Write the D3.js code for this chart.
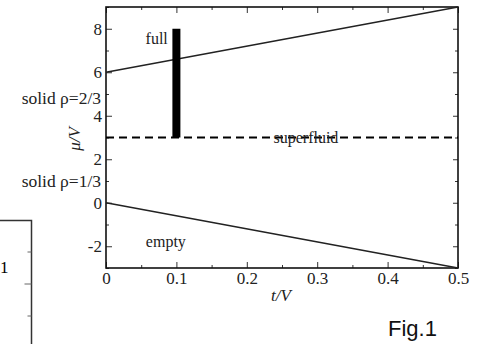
<!DOCTYPE html>
<html>
<head>
<meta charset="utf-8">
<script src="https://cdn.jsdelivr.net/npm/d3@7"></script>
<style>
	body { margin: 0; background: #fff; }
	svg { display: block; }
</style>
</head>
<body>
<div id="root"></div>
<script>
// phase diagram data (t/V on x, mu/V on y)
const tRange = [0, 0.5];
const fullBoundary = [6, 9];     // mu at t=0 and t=0.5
const emptyBoundary = [0, -3];
const superfluidLevel = 3;
const barT = 0.1;
const barRange = [3, 8];
const xTicks = [0, 0.1, 0.2, 0.3, 0.4, 0.5];
const xTickLabels = ["0", "0.1", "0.2", "0.3", "0.4", "0.5"];
const yTicks = [-2, 0, 2, 4, 6, 8];
const yTickLabels = ["-2", "0", "2", "4", "6", "8"];
const regionLabels = [
	{text: "full", t: 0.072, mu: 7.3},
	{text: "superfluid", t: 0.284, mu: 2.75},
	{text: "empty", t: 0.085, mu: -2.05}
];
const solidLabels = [
	{text: "solid ρ=2/3", mu: 4.8},
	{text: "solid ρ=1/3", mu: 1.0}
];

const SERIF = "'Liberation Serif', 'Times New Roman', 'DejaVu Serif', serif";

function whenDocumentLoaded(action) {
	if (document.readyState === "loading") {
		document.addEventListener("DOMContentLoaded", action);
	} else {
		action();
	}
}

function drawChart() {
	const width = 479, height = 344;
	const margin = {top: 7, right: 21, bottom: 76, left: 106};
	const w = width - margin.left - margin.right;
	const h = height - margin.top - margin.bottom;

	const svg = d3.select("#root").append("svg")
		.attr("width", width)
		.attr("height", height)
		.attr("font-family", SERIF);

	// bit of the neighbouring panel cut off on the left
	const side = svg.append("g").attr("class", "side-panel");
	side.append("path")
		.attr("d", "M0,220.5H31.5V344")
		.attr("fill", "none")
		.attr("stroke", "#333")
		.attr("stroke-width", 1.5);
	[[252, 4], [284, 7], [316, 4]].forEach(([y, len]) => {
		side.append("line")
			.attr("x1", 31.5 - len).attr("x2", 31.5)
			.attr("y1", y).attr("y2", y)
			.attr("stroke", "#666");
	});
	side.append("text")
		.attr("x", 0).attr("y", 273)
		.attr("font-size", 17)
		.text("1");

	const x = d3.scaleLinear().domain(tRange).range([0, w]);
	const y = d3.scaleLinear().domain([-3, 9]).range([h, 0]);

	const g = svg.append("g").attr("transform", `translate(${margin.left},${margin.top})`);

	// ticks on all four sides, pointing in
	const xMinor = d3.range(0.05, 0.5, 0.1);
	const yMinor = d3.range(-3, 10, 1).filter(v => !yTicks.includes(v));

	g.append("g").attr("transform", `translate(0,${h})`)
		.call(d3.axisBottom(x).tickValues(xTicks).tickSize(-6).tickFormat((d, i) => xTickLabels[i]).tickPadding(4));
	g.append("g").attr("transform", `translate(0,${h})`)
		.call(d3.axisBottom(x).tickValues(xMinor).tickSize(-3).tickFormat(""));
	g.append("g")
		.call(d3.axisTop(x).tickValues(xTicks).tickSize(-6).tickFormat(""));
	g.append("g")
		.call(d3.axisTop(x).tickValues(xMinor).tickSize(-3).tickFormat(""));

	g.append("g")
		.call(d3.axisLeft(y).tickValues(yTicks).tickSize(-6).tickFormat((d, i) => yTickLabels[i]).tickPadding(4));
	g.append("g")
		.call(d3.axisLeft(y).tickValues(yMinor).tickSize(-3).tickFormat(""));
	g.append("g").attr("transform", `translate(${w},0)`)
		.call(d3.axisRight(y).tickValues(yTicks).tickSize(-5).tickFormat(""));
	g.append("g").attr("transform", `translate(${w},0)`)
		.call(d3.axisRight(y).tickValues(yMinor).tickSize(-3).tickFormat(""));

	g.selectAll(".domain").remove();
	g.selectAll("g").attr("font-family", SERIF).attr("font-size", 17);
	g.selectAll(".tick line").attr("stroke", "#333");
	g.selectAll(".tick text").attr("fill", "#222");

	// frame
	g.append("rect")
		.attr("width", w).attr("height", h)
		.attr("fill", "none")
		.attr("stroke", "#111")
		.attr("stroke-width", 1.6);

	const line = d3.line().x(d => x(d[0])).y(d => y(d[1]));

	g.append("path")
		.datum(tRange.map((t, i) => [t, fullBoundary[i]]))
		.attr("d", line)
		.attr("fill", "none").attr("stroke", "#222").attr("stroke-width", 1.4);
	g.append("path")
		.datum(tRange.map((t, i) => [t, emptyBoundary[i]]))
		.attr("d", line)
		.attr("fill", "none").attr("stroke", "#222").attr("stroke-width", 1.4);

	// superfluid boundary, dashed
	g.append("path")
		.datum(tRange.map(t => [t, superfluidLevel]))
		.attr("d", line)
		.attr("fill", "none").attr("stroke", "#000")
		.attr("stroke-width", 2)
		.attr("stroke-dasharray", "8,5");

	// thick bar at t/V = 0.1
	g.append("rect")
		.attr("x", x(barT) - 4)
		.attr("width", 8)
		.attr("y", y(barRange[1]))
		.attr("height", y(barRange[0]) - y(barRange[1]))
		.attr("fill", "#000");

	g.selectAll(".region-label")
		.data(regionLabels)
		.enter()
		.append("text")
		.attr("class", "region-label")
		.attr("x", d => x(d.t))
		.attr("y", d => y(d.mu))
		.attr("text-anchor", "middle")
		.attr("font-size", 16)
		.attr("fill", "#222")
		.text(d => d.text);

	svg.selectAll(".solid-label")
		.data(solidLabels)
		.enter()
		.append("text")
		.attr("class", "solid-label")
		.attr("x", margin.left - 5)
		.attr("y", d => margin.top + y(d.mu))
		.attr("dy", "0.35em")
		.attr("text-anchor", "end")
		.attr("font-size", 17.5)
		.attr("fill", "#222")
		.text(d => d.text);

	// axis titles
	svg.append("text")
		.attr("transform", `translate(80,139) rotate(-90)`)
		.attr("text-anchor", "middle")
		.attr("font-size", 17)
		.attr("font-style", "italic")
		.attr("fill", "#222")
		.text("μ/V");
	svg.append("text")
		.attr("x", 281).attr("y", 301)
		.attr("text-anchor", "middle")
		.attr("font-size", 17)
		.attr("font-style", "italic")
		.attr("fill", "#222")
		.text("t/V");

	svg.append("text")
		.attr("x", 388).attr("y", 336)
		.attr("font-family", "'Liberation Sans', Arial, sans-serif")
		.attr("font-size", 22)
		.attr("fill", "#111")
		.text("Fig.1");
}

whenDocumentLoaded(drawChart);
</script>
</body>
</html>
